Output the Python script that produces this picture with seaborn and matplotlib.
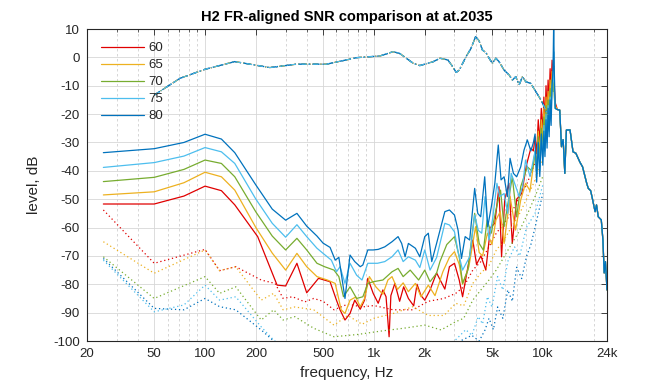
import numpy as np
import pandas as pd
import matplotlib
matplotlib.use("Agg")
import matplotlib.pyplot as plt
import seaborn as sns
from matplotlib.ticker import FixedLocator, FixedFormatter, NullFormatter, LogLocator
from matplotlib.lines import Line2D

sns.set_theme(style="white")
plt.rcParams["font.family"] = ["Liberation Sans", "DejaVu Sans"]

# ---------------- data ----------------
series_names = ["60", "65", "70", "75", "80"]
series_colors = ["#E00000", "#EDB120", "#77AC30", "#4DBEEE", "#0072BD"]

x_ticks = [20, 50, 100, 200, 500, 1000, 2000, 5000, 10000, 24000]
x_tick_labels = ["20", "50", "100", "200", "500", "1k", "2k", "5k", "10k", "24k"]
y_ticks = [-100, -90, -80, -70, -60, -50, -40, -30, -20, -10, 0, 10]

# frequency response (dash-dot)
fr_freq = [50, 71, 100, 150, 242, 348, 524, 792, 1088, 1300, 1420, 1710, 1870, 2250, 2460,
           2740, 2930, 3070, 3200, 3510, 3760, 4000, 4190, 4390, 4600, 4810, 5030, 5270,
           5510, 5900, 6320, 6610, 6920, 7240, 7580, 7930, 8500, 9100, 9750, 10200, 10700]
fr_level = [-13.3, -7.4, -4.2, -1.5, -3.6, -2.4, -2.4, -0.1, 0.5, 2.0, 1.4, -2.1, -2.9, -1.5,
            -0.3, -0.9, -3.3, -5.3, -4.5, 0.2, 3.2, 7.3, 5.9, 2.6, 1.7, -0.3, -2.1, -0.3,
            -1.5, -4.5, -6.2, -8.0, -6.8, -9.7, -6.8, -8.6, -9.2, -12.1, -15.0, -17.4, -20.3]

# solid lines (signal)
red_f = [25, 50, 75, 100, 125, 150, 205, 267, 300, 350, 400, 470, 550, 600, 630, 674, 722, 770,
         830, 880, 920, 990, 1060, 1130, 1180, 1230, 1260, 1330, 1420, 1500, 1600, 1720, 1800,
         1900, 2000, 2150, 2350, 2630, 2800, 3000, 3200, 3350, 3550, 3850, 4050, 4300, 4600,
         4900, 5200, 5500, 5700, 5950, 6300, 6600, 7000, 7500, 8000, 8500]
red_L = [-51.7, -51.7, -48.9, -45.4, -47.0, -52.0, -63.2, -80.3, -80.6, -72.6, -83.0, -77.9,
         -79.1, -85.6, -89.0, -92.6, -90.3, -85.6, -88.8, -85.6, -77.9, -83.2, -86.7, -82.0,
         -84.4, -98.5, -84.0, -79.7, -86.0, -80.9, -85.0, -87.6, -80.0, -84.0, -85.6, -82.0,
         -76.0, -81.7, -73.8, -72.6, -78.5, -84.4, -76.0, -64.4, -73.0, -70.0, -75.0, -60.0,
         -58.5, -45.6, -70.3, -50.3, -44.4, -65.6, -50.0, -48.0, -38.0, -32.0]

orange_f = [25, 50, 75, 100, 125, 150, 200, 250, 300, 350, 400, 460, 530, 590, 640, 674, 722,
            780, 830, 880, 940, 1030, 1130, 1210, 1280, 1380, 1490, 1600, 1760, 1900, 2100,
            2300, 2560, 2800, 3000, 3200, 3350, 3650, 4000, 4200, 4400, 4700, 5000, 5280,
            5600, 5900, 6400, 6900, 7400, 7900, 8400]
orange_L = [-48.5, -47.4, -44.2, -40.5, -42.1, -46.8, -60.0, -69.0, -75.0, -69.1, -73.8, -77.3,
            -78.5, -79.7, -89.0, -90.3, -85.6, -84.5, -87.9, -85.0, -77.3, -81.0, -83.5, -78.5,
            -77.3, -81.8, -79.5, -82.6, -79.7, -84.4, -80.3, -84.0, -75.6, -70.5, -68.5, -73.0,
            -80.0, -73.8, -59.7, -68.8, -70.0, -62.0, -66.0, -57.3, -54.4, -65.6, -49.1, -60.9,
            -50.3, -44.4, -47.0]

green_f = [25, 50, 75, 100, 125, 150, 200, 250, 300, 350, 400, 460, 510, 580, 620, 660, 722,
           790, 860, 920, 990, 1130, 1280, 1390, 1490, 1640, 1840, 2000, 2150, 2350, 2460,
           2700, 3000, 3200, 3350, 3600, 3950, 4200, 4450, 4680, 4950, 5280, 5620, 5900, 6200,
           6600, 7000, 7400, 8100, 8600]
green_L = [-43.8, -42.3, -39.5, -36.2, -37.4, -42.1, -54.5, -63.0, -67.9, -63.8, -67.9, -72.6,
           -73.8, -75.0, -77.3, -84.4, -80.9, -85.0, -84.4, -79.7, -79.1, -78.5, -75.6, -74.4,
           -77.3, -75.0, -78.5, -75.0, -79.1, -76.1, -72.0, -66.0, -63.2, -70.3, -79.7, -75.0,
           -55.0, -65.6, -68.0, -57.3, -62.0, -53.8, -46.8, -59.7, -52.0, -42.1, -56.2, -45.6,
           -38.6, -40.0]

lblue_f = [25, 50, 75, 100, 125, 150, 200, 250, 300, 350, 400, 460, 500, 560, 600, 630, 674,
           722, 790, 850, 920, 1050, 1160, 1280, 1390, 1490, 1600, 1760, 1870, 2000, 2150, 2350,
           2630, 2800, 3000, 3150, 3350, 3690, 3950, 4150, 4350, 4550, 4800, 5050, 5350, 5550,
           5900, 6200, 6500, 7250, 7600, 7900, 8400]
lblue_L = [-38.8, -37.1, -34.8, -31.8, -33.3, -37.4, -50.0, -58.5, -63.4, -59.0, -63.2, -67.3,
           -69.1, -71.5, -75.6, -73.8, -79.7, -72.6, -76.8, -78.5, -72.6, -72.6, -72.0, -70.3,
           -67.9, -72.0, -70.3, -71.5, -74.1, -67.9, -75.0, -70.6, -58.5, -59.1, -61.5, -68.5,
           -75.0, -70.3, -55.6, -61.0, -62.0, -49.1, -64.4, -56.8, -44.4, -49.1, -48.0, -55.0,
           -40.9, -49.1, -45.5, -36.2, -42.0]

blue_f = [25, 50, 75, 100, 125, 150, 200, 250, 300, 350, 400, 460, 500, 550, 590, 620, 674, 722,
          770, 830, 860, 920, 990, 1060, 1160, 1280, 1390, 1460, 1530, 1600, 1760, 1870, 2000,
          2100, 2200, 2350, 2630, 2800, 3000, 3150, 3300, 3470, 3690, 3950, 4120, 4290, 4530,
          4720, 4960, 5200, 5450, 5660, 5900, 6170, 6400, 6700, 7000, 7400, 7740, 8100, 8500]
blue_L = [-33.6, -32.2, -30.0, -27.1, -28.8, -33.6, -45.0, -53.5, -57.4, -55.0, -59.5, -63.0,
          -65.5, -67.0, -71.5, -70.5, -85.0, -69.7, -72.0, -73.8, -73.2, -67.9, -67.9, -67.7,
          -66.8, -65.0, -63.2, -65.6, -70.3, -65.6, -67.3, -70.3, -63.2, -62.0, -72.0, -65.6,
          -54.4, -53.8, -55.6, -60.9, -70.9, -63.2, -64.4, -46.2, -55.0, -56.2, -42.1, -59.7,
          -52.6, -44.4, -30.9, -43.2, -42.1, -49.1, -35.6, -40.9, -42.1, -38.6, -32.7, -29.1,
          -33.0]

# resonance region around 9-12 kHz
spike_f = [8800, 9000, 9200, 9400, 9600, 9800, 10000, 10150, 10300, 10450, 10600, 10750, 10900,
           11050, 11200, 11350, 11500, 11600, 11700, 11850]
red_spk = [-33, -28, -34, -22, -30, -18, -27, -14, -24, -10, -20, -8, -16, -4, -12, -1, -6, -3, -10, -16]
orange_spk = [-38, -33, -38, -26, -34, -22, -30, -18, -27, -14, -24, -12, -20, -8, -15, -5, -9, -6, -12, -17]
green_spk = [-38, -33, -40, -28, -36, -25, -33, -21, -30, -17, -27, -15, -23, -11, -18, -8, -12, -4, -14, -18]
lblue_spk = [-36, -33, -42, -31, -40, -28, -36, -24, -33, -20, -30, -17, -26, -14, -21, -10, -8, 2, -12, -18]
blue_spk = [-30, -27, -44, -30, -42, -27, -38, -26, -35, -22, -32, -18, -28, -15, -24, -10, -4, 12, -5, -18]

# common high-frequency tail
tail_f = [12200, 12600, 12900, 13200, 13500, 13800, 14500, 15100, 15700, 16600, 17200, 18200,
          18600, 19200, 19700, 20400, 20800, 21300, 22200, 22700, 23100, 23500, 24000]
tail_L = [-18.4, -18.6, -31.5, -29.0, -40.9, -25.6, -25.6, -33.3, -33.8, -37.0, -38.6, -44.4,
          -46.2, -47.0, -50.0, -54.4, -52.0, -56.2, -57.3, -64.4, -76.0, -72.0, -82.0]

# dotted lines (noise floor)
red_nf_f = [25, 50, 100, 122, 152, 215, 260, 290, 330, 390, 440, 500, 580, 700, 850, 1000, 1300,
            1700, 2100, 2600, 3050, 3400, 3850, 4300, 4800, 5300, 5900, 6500, 7300, 8000, 9000, 10000]
red_nf_L = [-53.8, -72.6, -67.7, -75.2, -73.8, -78.5, -79.7, -85.0, -84.4, -86.2, -85.0, -86.0,
            -89.0, -87.0, -88.0, -87.5, -89.0, -89.0, -86.0, -85.0, -83.2, -80.9, -75.0, -72.0,
            -66.8, -62.0, -58.5, -55.0, -49.1, -45.0, -37.4, -30.0]
orange_nf_f = [25, 50, 100, 122, 152, 215, 255, 290, 340, 440, 580, 700, 850, 1000, 1300, 1700,
               2100, 2600, 3050, 3400, 3850, 4300, 4800, 5300, 5900, 6500, 7300, 8000, 9000, 10000]
orange_nf_L = [-65.0, -76.1, -67.9, -75.2, -73.8, -85.6, -83.2, -89.0, -88.0, -89.0, -94.4, -91.0,
               -94.1, -92.0, -90.3, -87.9, -91.0, -91.0, -86.7, -87.6, -79.7, -76.0, -73.4, -68.0,
               -64.4, -60.0, -55.0, -50.0, -43.2, -36.0]
green_nf_f = [25, 50, 100, 122, 152, 215, 255, 290, 340, 440, 580, 800, 1100, 1500, 2000, 2500,
              3050, 3400, 3850, 4300, 4800, 5300, 5900, 6500, 7300, 8000, 9000, 10000]
green_nf_L = [-70.3, -85.0, -77.3, -83.2, -80.9, -92.6, -89.0, -92.6, -91.4, -95.5, -98.5, -97.7,
              -96.5, -95.5, -94.4, -96.1, -93.2, -92.0, -85.6, -82.0, -78.5, -75.0, -70.3, -66.0,
              -61.0, -56.0, -49.1, -42.0]
lblue_nf_f = [25, 50, 75, 100, 122, 152, 215, 255, 300, 500, 1000, 2000, 3000, 3500, 3800, 4150,
              4400, 4700, 5000, 5400, 5800, 6200, 6800, 7300, 8000, 9000, 10000]
lblue_nf_L = [-71.5, -89.7, -87.3, -80.3, -85.6, -84.4, -95.0, -99.7, -103, -106, -106, -104,
              -100, -96, -98, -91.4, -94, -84.4, -88, -77.3, -82, -72, -66.8, -70, -60, -55, -45]
blue_nf_f = [25, 50, 75, 100, 122, 152, 215, 255, 300, 500, 1000, 2000, 3000, 3800, 4200, 4550,
             4800, 5100, 5400, 5800, 6200, 6600, 7000, 7500, 8000, 8500, 9000, 10000]
blue_nf_L = [-70.9, -88.5, -89.0, -85.0, -87.9, -89.0, -96.1, -100, -104, -107, -107, -105, -101,
             -98, -100, -96.1, -92, -96, -88, -92, -82, -86, -74, -78, -70.3, -66, -60, -48]

signal = [(red_f, red_L, red_spk), (orange_f, orange_L, orange_spk), (green_f, green_L, green_spk),
          (lblue_f, lblue_L, lblue_spk), (blue_f, blue_L, blue_spk)]
noise = [(red_nf_f, red_nf_L), (orange_nf_f, orange_nf_L), (green_nf_f, green_nf_L),
         (lblue_nf_f, lblue_nf_L), (blue_nf_f, blue_nf_L)]

# ---------------- figure ----------------
fig = plt.figure(figsize=(6.72, 3.84), dpi=100)
ax = fig.add_axes([87 / 672, 1 - 341 / 384, 520 / 672, 312 / 384])
ax.set_facecolor("white")

handles = []
for name, col, (sf, sl, spk), (nf, nl) in zip(series_names, series_colors, signal, noise):
    f_all = list(sf) + spike_f + tail_f
    l_all = list(sl) + spk + tail_L
    df = pd.DataFrame({"f": f_all, "L": l_all})
    sns.lineplot(data=df, x="f", y="L", ax=ax, color=col, lw=0.9, estimator=None, sort=False)
    dn = pd.DataFrame({"f": nf, "L": nl})
    sns.lineplot(data=dn, x="f", y="L", ax=ax, color=col, lw=0.9, estimator=None, sort=False,
                 linestyle=(0, (1, 2.2)))
    handles.append(Line2D([0], [0], color=col, lw=0.9, label=name))

# overlapping FR curves (same for all levels); blue drawn under light blue
fr_order = [0, 1, 2, 4, 3]
for i in fr_order:
    dfr = pd.DataFrame({"f": fr_freq, "L": fr_level})
    sns.lineplot(data=dfr, x="f", y="L", ax=ax, color=series_colors[i],
                 lw=1.0 if i == 4 else 0.8, estimator=None, sort=False,
                 linestyle=(0, (5, 2, 1, 2)))

ax.set_xscale("log")
ax.set_xlim(20, 24000)
ax.set_ylim(-100, 10)
ax.xaxis.set_major_locator(FixedLocator(x_ticks))
ax.xaxis.set_major_formatter(FixedFormatter(x_tick_labels))
ax.xaxis.set_minor_locator(LogLocator(base=10, subs=np.arange(2, 10), numticks=20))
ax.xaxis.set_minor_formatter(NullFormatter())
ax.yaxis.set_major_locator(FixedLocator(y_ticks))
ax.yaxis.set_major_formatter(FixedFormatter([str(v) for v in y_ticks]))

ax.grid(True, which="major", color="#d7d7d7", lw=0.6, ls="-")
ax.grid(True, which="minor", axis="x", color="#d0d0d0", lw=0.6, ls=(0, (3, 3)))
ax.set_axisbelow(True)
for s in ax.spines.values():
    s.set_color("#262626")
    s.set_linewidth(0.8)
ax.tick_params(which="both", direction="in", top=True, right=True, colors="#262626",
               labelsize=9.5, labelcolor="#262626")
ax.tick_params(which="major", length=4, width=0.6, pad=5)
ax.tick_params(which="minor", length=2, width=0.5)

ax.set_xlabel("frequency, Hz", fontsize=11, color="#262626", labelpad=4)
ax.set_ylabel("level, dB", fontsize=11, color="#262626", labelpad=9)
ax.set_title("H2 FR-aligned SNR comparison at at.2035", fontsize=10.5, fontweight="bold",
             color="black", pad=6)

leg = ax.legend(handles=handles, loc="upper left", bbox_to_anchor=(0.016, 0.975),
                borderaxespad=0, frameon=False, fontsize=9.5, handlelength=3.3,
                handletextpad=0.35, labelspacing=0.36, borderpad=0.4)

fig.savefig("out.png", dpi=100, facecolor="white")
